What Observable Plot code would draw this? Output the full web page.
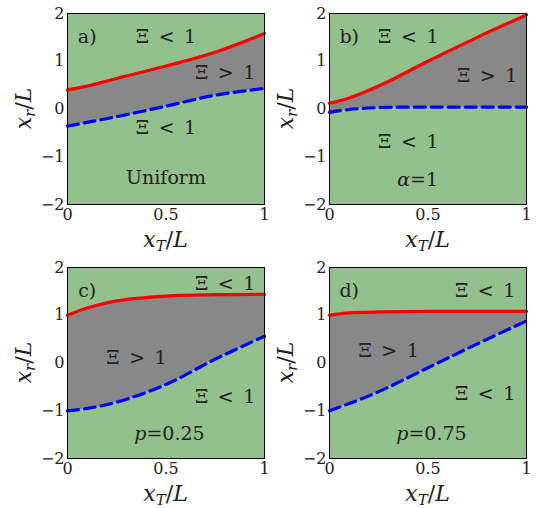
<!DOCTYPE html>
<html>
<head>
<meta charset="utf-8">
<script src="https://cdn.jsdelivr.net/npm/d3@7"></script>
<script src="https://cdn.jsdelivr.net/npm/@observablehq/plot@0.6"></script>
<style>
  html, body { margin: 0; padding: 0; background: #fff; }
  #root { position: relative; width: 537px; height: 508px; }
  .panel { position: absolute; }
  .panel svg, .panel svg text { font-family: "DejaVu Serif", serif !important; }
</style>
</head>
<body>
<div id="root"></div>
<script>
// ---- data ----
const xT = [0, 0.1, 0.25, 0.5, 0.75, 1];
const upperA = [0.40, 0.48, 0.64, 0.90, 1.19, 1.58];
const lowerA = [-0.36, -0.28, -0.16, 0.06, 0.29, 0.43];
const upperB = [0.12, 0.23, 0.48, 1.00, 1.50, 1.97];
const lowerB = [-0.07, -0.01, 0.03, 0.04, 0.04, 0.04];
const upperC = [1.00, 1.15, 1.30, 1.40, 1.43, 1.44];
const lowerC = [-1.00, -0.95, -0.82, -0.45, 0.08, 0.56];
const upperD = [1.00, 1.05, 1.07, 1.08, 1.08, 1.08];
const lowerD = [-1.00, -0.85, -0.60, -0.10, 0.40, 0.88];
const panelTags = ["a)", "b)", "c)", "d)"];
const xTicks = [0, 0.5, 1];
const yTicks = [-2, -1, 0, 1, 2];
// annotations per panel: [text, x, y]
const notesA = [["Ξ\u2002<\u20021", 0.5, 1.52], ["Ξ\u2002>\u20021", 0.8, 0.75], ["Ξ\u2002<\u20021", 0.5, -0.4], ["Uniform", 0.5, -1.44]];
const notesB = [["Ξ\u2002<\u20021", 0.4, 1.52], ["Ξ\u2002>\u20021", 0.8, 0.7], ["Ξ\u2002<\u20021", 0.4, -0.69], ["α=1", 0.45, -1.48]];
const notesC = [["Ξ\u2002<\u20021", 0.8, 1.65], ["Ξ\u2002>\u20021", 0.35, 0.1], ["Ξ\u2002<\u20021", 0.8, -0.7], ["p=0.25", 0.52, -1.48]];
const notesD = [["Ξ\u2002<\u20021", 0.79, 1.52], ["Ξ\u2002>\u20021", 0.3, 0.26], ["Ξ\u2002<\u20021", 0.79, -0.65], ["p=0.75", 0.52, -1.48]];

const GREEN = "#93c18d";
const GRAY = "#888888";
const FONT = "DejaVu Serif, serif";

const panels = [
  {up: upperA, lo: lowerA, notes: notesA, tag: panelTags[0], left: 0, top: 0},
  {up: upperB, lo: lowerB, notes: notesB, tag: panelTags[1], left: 262, top: 0},
  {up: upperC, lo: lowerC, notes: notesC, tag: panelTags[2], left: 0, top: 254},
  {up: upperD, lo: lowerD, notes: notesD, tag: panelTags[3], left: 262, top: 254},
];

const fmt = d => d < 0 ? "\u2212" + (-d) : String(d);
const root = document.getElementById("root");
const isParam = n => /^[αp]=/.test(n.t);

for (const p of panels) {
  const rows = xT.map((x, i) => ({x, up: p.up[i], lo: p.lo[i]}));
  const notes = p.notes.map(([t, x, y]) => ({t, x, y}));
  const W = 268, H = 254;
  const svg = Plot.plot({
    width: W, height: H,
    marginLeft: 67, marginRight: 4, marginTop: 13, marginBottom: 50,
    style: {fontFamily: FONT, fontSize: "16px", background: "transparent", overflow: "visible", color: "#222"},
    x: {domain: [0, 1], ticks: xTicks, tickFormat: fmt, tickSize: 0, tickPadding: 4, label: null},
    y: {domain: [-2, 2], ticks: yTicks, tickFormat: fmt, tickSize: 0, tickPadding: 3, label: null},
    marks: [
      Plot.frame({fill: GREEN, stroke: null}),
      Plot.areaY(rows, {x: "x", y1: "lo", y2: "up", fill: GRAY, curve: "catmull-rom"}),
      Plot.line(rows, {x: "x", y: "up", stroke: "#ff0000", strokeWidth: 3.2, curve: "catmull-rom"}),
      Plot.line(rows, {x: "x", y: "lo", stroke: "#0000ff", strokeWidth: 3.2, strokeDasharray: "11,6", curve: "catmull-rom"}),
      Plot.text([p.tag], {x: () => 0.1, y: () => 1.52, text: d => d, fontSize: 19, fill: "#222"}),
      Plot.text(notes.filter(n => !isParam(n)), {x: "x", y: "y", text: "t", fontSize: 19, fill: "#222"}),
      Plot.frame({stroke: "#000", strokeWidth: 1})
    ]
  });
  const s = d3.select(svg);
  const xs = d3.scaleLinear([0, 1], [67, W - 4]);
  const ys = d3.scaleLinear([-2, 2], [H - 50, 13]);
  for (const n of notes.filter(isParam)) {
    const t = s.append("text").attr("x", xs(n.x)).attr("y", ys(n.y)).attr("dy", "0.35em")
      .attr("text-anchor", "middle").attr("font-size", 19).attr("fill", "#222");
    t.append("tspan").attr("font-style", "italic").text(n.t[0]);
    t.append("tspan").text(n.t.slice(1));
  }
  // x label
  const xl = s.append("text").attr("x", xs(0.5)).attr("y", H - 7).attr("text-anchor", "middle")
    .attr("font-size", 22).attr("fill", "#222");
  xl.append("tspan").attr("font-style", "italic").text("x");
  xl.append("tspan").attr("font-style", "italic").attr("font-size", 15).attr("dy", "4").text("T");
  xl.append("tspan").attr("dy", "-4").text("/");
  xl.append("tspan").attr("font-style", "italic").text("L");
  // y label
  const yl = s.append("text").attr("transform", `translate(31,${ys(0)}) rotate(-90)`).attr("text-anchor", "middle")
    .attr("font-size", 22).attr("fill", "#222");
  yl.append("tspan").attr("font-style", "italic").text("x");
  yl.append("tspan").attr("font-style", "italic").attr("font-size", 15).attr("dy", "4").text("r");
  yl.append("tspan").attr("dy", "-4").text("/");
  yl.append("tspan").attr("font-style", "italic").text("L");

  const div = document.createElement("div");
  div.className = "panel";
  div.style.left = p.left + "px";
  div.style.top = p.top + "px";
  div.appendChild(svg);
  root.appendChild(div);
}
</script>
</body>
</html>
